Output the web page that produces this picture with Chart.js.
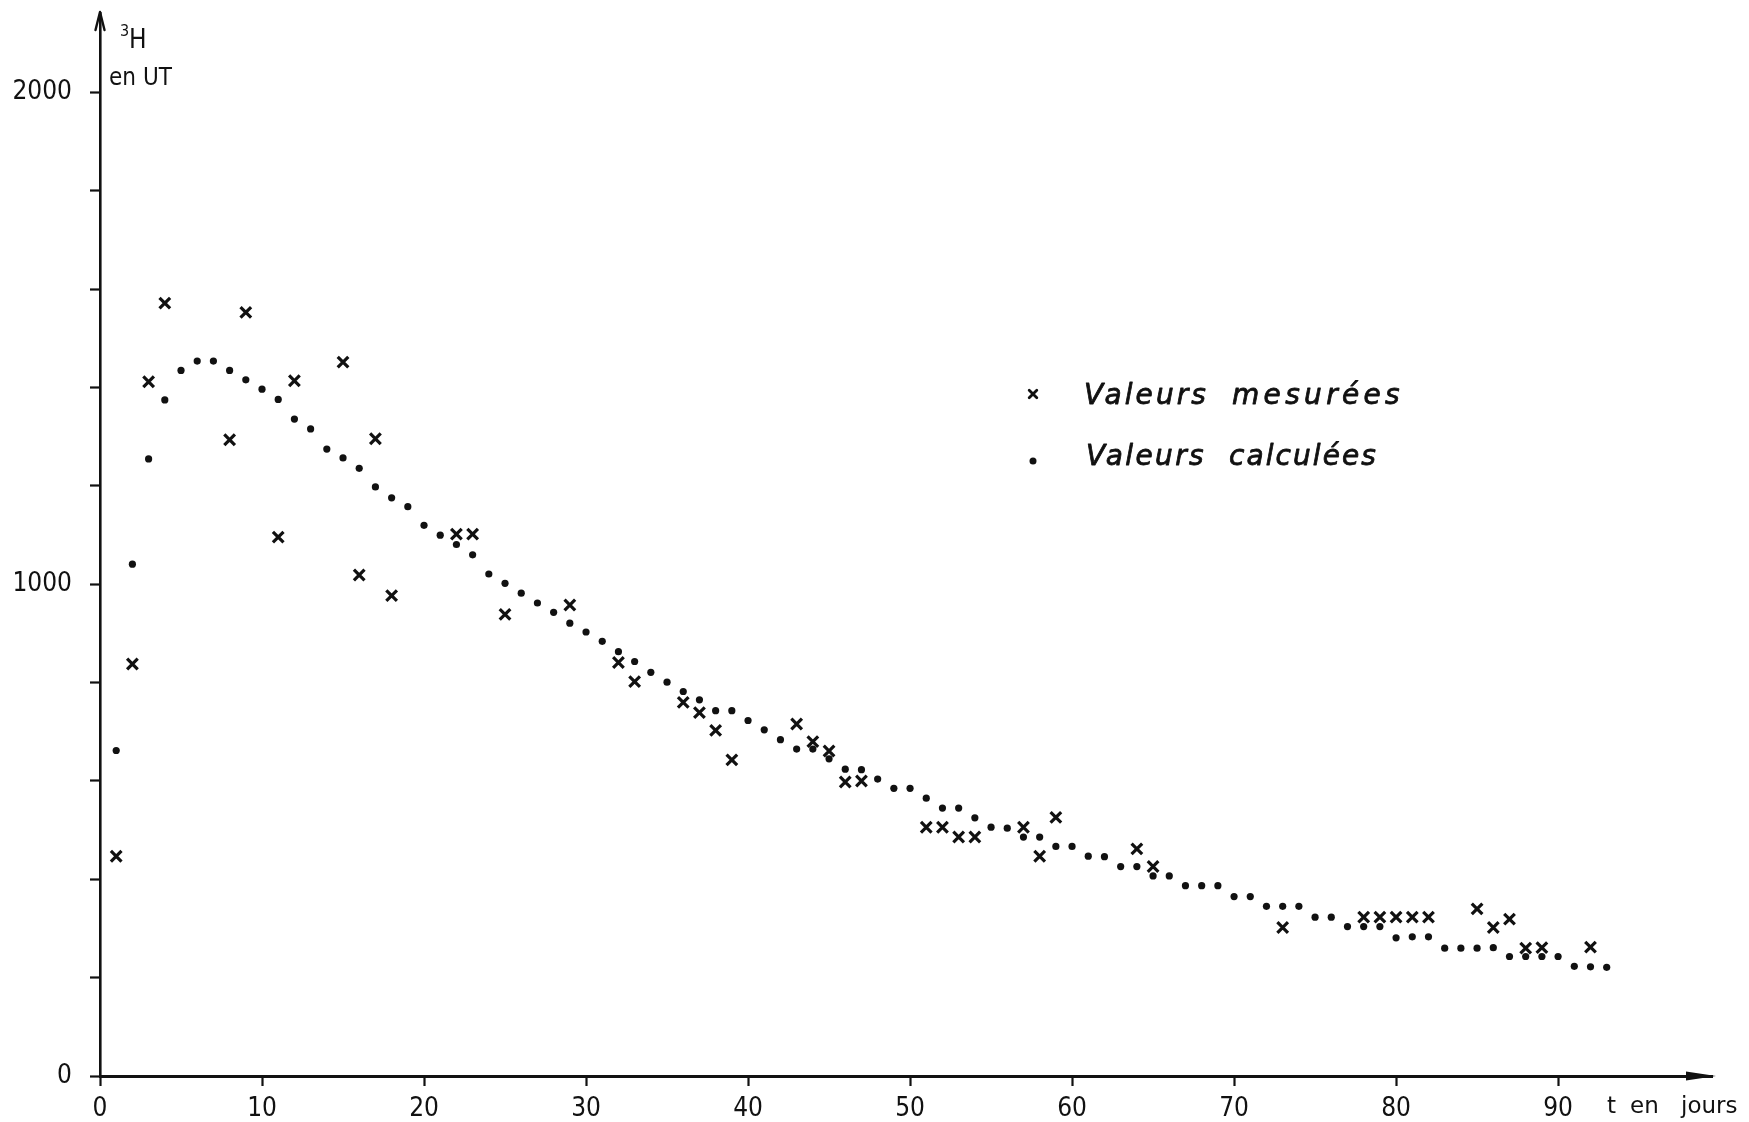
<!DOCTYPE html>
<html>
<head>
<meta charset="utf-8">
<script src="https://cdn.jsdelivr.net/npm/chart.js@4.4.1/dist/chart.umd.min.js"></script>
<style>
  html, body { margin: 0; padding: 0; background: #ffffff; }
  #wrap { width: 1749px; height: 1122px; position: relative; }
</style>
</head>
<body>
<div id="wrap"><canvas id="c" width="1749" height="1122"></canvas></div>
<script>
// ---- data ----
const measuredDays   = [1,2,3,4,8,9,11,12,15,16,17,18,22,23,25,29,32,33,36,37,38,39,43,44,45,46,47,51,52,53,54,57,58,59,64,65,73,78,79,80,81,82,85,86,87,88,89,92];
const measuredValues = [447,838,1412,1572,1294,1553,1096,1414,1452,1019,1296,977,1102,1102,939,958,841,802,760,739,703,643,716,680,661,598,600,506,506,486,486,506,447,526,462,426,302,323,323,323,323,323,340,302,319,260,261,262];

const calcDays = [1,2,3,4,5,6,7,8,9,10,11,12,13,14,15,16,17,18,19,20,21,22,23,24,25,26,27,28,29,30,31,32,33,34,35,36,37,38,39,40,41,42,43,44,45,46,47,48,49,50,51,52,53,54,55,56,57,58,59,60,61,62,63,64,65,66,67,68,69,70,71,72,73,74,75,76,77,78,79,80,81,82,83,84,85,86,87,88,89,90,91,92,93];
const calcValues = [662,1041,1255,1375,1435,1454,1454,1435,1416,1397,
                    1376,1336,1316,1275,1257,1236,1198,1176,1158,1120,
                    1100,1081,1060,1021,1002,982,962,943,921,903,
                    884,863,843,821,801,782,765,743,743,723,
                    704,684,665,665,645,624,623,604,585,585,
                    565,545,545,525,506,504,486,486,467,467,
                    447,446,426,426,407,407,387,387,387,365,
                    365,345,345,345,323,323,304,304,304,281,
                    283,283,260,260,260,261,243,243,243,243,
                    223,222,221];

const xTickValues = [0,10,20,30,40,50,60,70,80,90];
const xTickLabels = [0,10,20,30,40,50,60,70,80,90];
const yTickValues = [0,200,400,600,800,1000,1200,1400,1600,1800,2000];
const yTickLabels = [0,1000,2000];
const legendWords = [['Valeurs','mesurées'],['Valeurs','calculées']];
const yTitleSup = '3';
const yTitleMain = 'H';
const yTitleUnit = ['en','UT'];
const xTitleWords = ['t','en','jours'];

// ---- drawing ----
const ink = '#111111';
const narrow = '"Liberation Sans Narrow","DejaVu Sans Condensed","Roboto Condensed","Liberation Sans",sans-serif';

function pairs(xs, ys){ return xs.map((d,i)=>({x:d, y:ys[i]})); }

function drawCross(ctx, cx, cy, r, w){
  ctx.lineWidth = w;
  ctx.beginPath();
  ctx.moveTo(cx-r, cy-r); ctx.lineTo(cx+r, cy+r);
  ctx.moveTo(cx+r, cy-r); ctx.lineTo(cx-r, cy+r);
  ctx.stroke();
}

function spacedWord(ctx, text, x, baseline, target, stroke){
  ctx.letterSpacing = '0px';
  const w0 = ctx.measureText(text).width;
  const ls = Math.max(0, (target - w0) / text.length);
  ctx.letterSpacing = ls.toFixed(2) + 'px';
  ctx.fillText(text, x, baseline);
  if (stroke) { ctx.lineWidth = stroke; ctx.strokeText(text, x, baseline); }
  ctx.letterSpacing = '0px';
}

const overlay = {
  id: 'overlay',
  afterDraw(chart){
    const {ctx, chartArea: a, scales: {x, y}} = chart;
    ctx.save();
    ctx.fillStyle = ink; ctx.strokeStyle = ink;
    ctx.lineCap = 'round'; ctx.lineJoin = 'round';

    // y-axis arrow (open)
    const x0 = x.getPixelForValue(0);
    ctx.lineWidth = 2.4;
    ctx.beginPath();
    ctx.moveTo(x0 - 4.5, a.top + 17);
    ctx.lineTo(x0, a.top - 1);
    ctx.lineTo(x0 + 4.5, a.top + 17);
    ctx.stroke();

    // x-axis arrow (filled)
    const yb = y.getPixelForValue(0);
    ctx.beginPath();
    ctx.moveTo(a.right + 4, yb);
    ctx.lineTo(a.right - 26, yb - 4.5);
    ctx.lineTo(a.right - 26, yb + 4.5);
    ctx.closePath();
    ctx.fill();

    // y-axis title
    ctx.textAlign = 'left';
    ctx.textBaseline = 'alphabetic';
    ctx.font = '16px ' + narrow;
    ctx.fillText(yTitleSup, x0 + 20, a.top + 23);
    ctx.font = '26px ' + narrow;
    ctx.fillText(yTitleMain, x0 + 29, a.top + 35);
    ctx.font = '24px ' + narrow;
    ctx.fillText(yTitleUnit[0], x0 + 9, a.top + 72);
    ctx.fillText(yTitleUnit[1], x0 + 43, a.top + 72);

    // x-axis title
    ctx.font = '23px "DejaVu Sans", sans-serif';
    ctx.fillText(xTitleWords[0], 1607, yb + 37);
    ctx.fillText(xTitleWords[1], 1630, yb + 37);
    ctx.fillText(xTitleWords[2], 1681, yb + 37);

    // legend
    drawCross(ctx, 1033, 394, 3.8, 2.8);
    ctx.beginPath(); ctx.arc(1033, 461, 3.5, 0, Math.PI*2); ctx.fill();
    ctx.font = 'italic 28px "DejaVu Sans", sans-serif';
    spacedWord(ctx, legendWords[0][0], 1084, 404, 125, 0.8);
    spacedWord(ctx, legendWords[0][1], 1232, 404, 172, 0.8);
    spacedWord(ctx, legendWords[1][0], 1086, 465, 120, 0.8);
    spacedWord(ctx, legendWords[1][1], 1229, 465, 149, 0.8);

    ctx.restore();
  }
};

new Chart(document.getElementById('c'), {
  type: 'scatter',
  data: {
    datasets: [
      {
        label: legendWords[0].join(' '),
        data: pairs(measuredDays, measuredValues),
        pointStyle: 'crossRot',
        pointRadius: 7.5,
        pointBorderWidth: 3.2,
        borderColor: ink,
        backgroundColor: ink,
        showLine: false
      },
      {
        label: legendWords[1].join(' '),
        data: pairs(calcDays, calcValues),
        pointStyle: 'circle',
        pointRadius: 3.6,
        pointBorderWidth: 0,
        borderColor: ink,
        backgroundColor: ink,
        showLine: false
      }
    ]
  },
  options: {
    responsive: false,
    devicePixelRatio: 1,
    animation: false,
    events: [],
    layout: { padding: { left: 0, top: 13, right: 37, bottom: 0 } },
    plugins: { legend: { display: false }, tooltip: { enabled: false } },
    scales: {
      x: {
        type: 'linear',
        min: 0, max: 99.5,
        afterFit: s => { s.height = 46; s.paddingLeft = 0; s.paddingRight = 0; },
        afterBuildTicks: s => { s.ticks = xTickValues.map(v => ({ value: v })); },
        border: { display: true, color: ink, width: 3 },
        grid: { display: true, drawOnChartArea: false, drawTicks: true, tickLength: 10, tickColor: ink, tickWidth: 2.2, color: ink },
        ticks: {
          autoSkip: false, maxRotation: 0,
          padding: 8, color: ink,
          font: { family: narrow, size: 26 },
          callback: v => xTickLabels.includes(v) ? String(v) : ''
        }
      },
      y: {
        type: 'linear',
        min: 0, max: 2162,
        afterFit: s => { s.width = 100; s.paddingTop = 0; s.paddingBottom = 0; },
        afterBuildTicks: s => { s.ticks = yTickValues.map(v => ({ value: v })); },
        border: { display: true, color: ink, width: 2.6 },
        grid: { display: true, drawOnChartArea: false, drawTicks: true, tickLength: 10, tickColor: ink, tickWidth: 2.2, color: ink },
        ticks: {
          autoSkip: false,
          padding: 18, color: ink,
          font: { family: narrow, size: 26 },
          callback: v => yTickLabels.includes(v) ? String(v) : ''
        }
      }
    }
  },
  plugins: [overlay]
});
</script>
</body>
</html>
